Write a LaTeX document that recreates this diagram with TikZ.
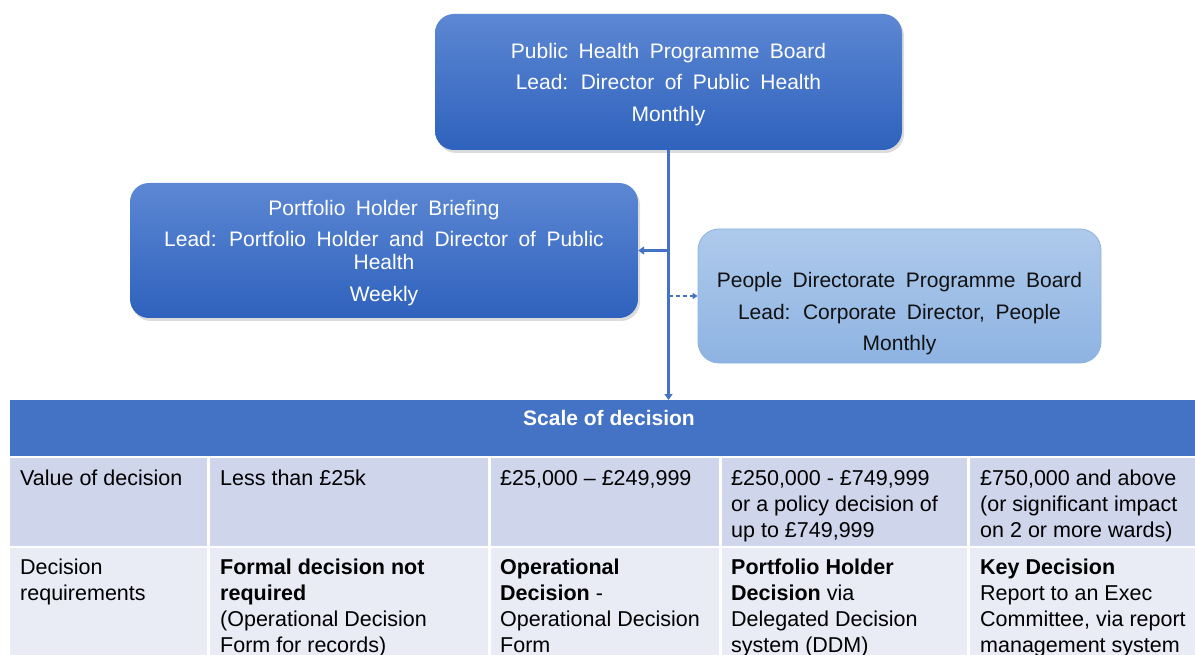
\documentclass[tikz,border=0pt]{standalone}
\usepackage{fontspec}
\setmainfont{Liberation Sans}
\usetikzlibrary{arrows.meta,shadows}

\definecolor{darktop}{HTML}{5C87D3}
\definecolor{darkbot}{HTML}{2F62BD}
\definecolor{lighttop}{HTML}{AECAEB}
\definecolor{lightbot}{HTML}{8EB3E2}
\definecolor{lightedge}{HTML}{8DB2E2}
\definecolor{linkblue}{HTML}{4472C4}
\definecolor{headblue}{HTML}{4472C4}
\definecolor{rowone}{HTML}{CFD5EA}
\definecolor{rowtwo}{HTML}{E9EBF5}
\definecolor{inktext}{HTML}{111111}

\newcommand\boxfont{\fontsize{21}{31.5}\selectfont\spaceskip=0.5em plus 0.1em\relax}
\newcommand\cellfont{\fontsize{21.5}{26}\selectfont}
% taller first line, nudging the block of text slightly downward in its box
\newcommand\toprule{\rule{0pt}{19.5pt}}

\begin{document}
\begin{tikzpicture}[x=1pt,y=1pt,
  darkbox/.style={rounded corners=19pt, top color=darktop, bottom color=darkbot,
    draw=none, text=white, align=center, font=\boxfont, inner sep=0pt,
    drop shadow={opacity=0.28, shadow xshift=2pt, shadow yshift=-3pt}},
  lightbox/.style={rounded corners=21pt, top color=lighttop, bottom color=lightbot,
    draw=lightedge, line width=0.8pt, inner sep=0pt},
  lighttext/.style={text=inktext, align=center, font=\boxfont, inner sep=0pt},
  flow/.style={draw=linkblue, line width=2.6pt,
    -{Triangle[width=8pt,length=6pt]}},
  dflow/.style={draw=linkblue, line width=1.5pt, dash pattern=on 4pt off 3pt,
    -{Triangle[width=6pt,length=5pt]}},
  gridline/.style={draw=white, line width=2.5pt},
  cell/.style={anchor=north west, inner sep=0pt, align=left, font=\cellfont, text=black},
]
\useasboundingbox (0,0) rectangle (1195,-655);

% ---- boards ----
\node[darkbox, minimum width=467pt, minimum height=136pt] (phpb) at (668.5,-82)
  {\toprule Public Health Programme Board\\Lead: Director of Public Health\\Monthly};

\node[darkbox, minimum width=508pt, minimum height=135pt] (phb) at (384,-250.5)
  {\toprule Portfolio Holder Briefing\\Lead: Portfolio Holder and Director of Public\\[-8.5pt]Health\\Weekly};

\node[lightbox, minimum width=403pt, minimum height=134pt] (pdb) at (899.5,-296) {};
\node[lighttext] (pdbtext) at ([yshift=-18pt]pdb.center)
  {People Directorate Programme Board\\Lead: Corporate Director, People\\Monthly};

% ---- decision table ----
\node[fill=headblue, minimum width=1187pt, minimum height=56pt, inner sep=0pt, anchor=north west]
  (scale) at (10,-400) {};
\node[text=white, font=\fontsize{21}{26}\selectfont\bfseries, inner sep=0pt] (scaletext)
  at (609,-418) {Scale of decision};

\fill[rowone] (10,-456) rectangle (1197,-547);
\fill[rowtwo] (10,-547) rectangle (1197,-670);
\draw[gridline] (10,-457) -- (1197,-457);
\draw[gridline] (10,-547) -- (1197,-547);
\foreach \cx in {208.5,489.5,720.5,968.5}
  \draw[gridline] (\cx,-457) -- (\cx,-670);

% row: value of decision
\node[cell] (v0) at (20,-470) {Value of decision};
\node[cell] (v1) at (220,-470) {Less than £25k};
\node[cell] (v2) at (500,-470) {£25,000 – £249,999};
\node[cell] (v3) at (731,-470) {£250,000 - £749,999\\or a policy decision of\\up to £749,999};
\node[cell] (v4) at (980,-470) {£750,000 and above\\(or significant impact\\on 2 or more wards)};

% row: decision requirements
\node[cell] (r0) at (20,-559) {Decision\\requirements};
\node[cell] (r1) at (220,-559) {\textbf{Formal decision not}\\\textbf{required}\\(Operational Decision\\Form for records)};
\node[cell] (r2) at (500,-559) {\textbf{Operational}\\\textbf{Decision} -\\Operational Decision\\Form};
\node[cell] (r3) at (731,-559) {\textbf{Portfolio Holder}\\\textbf{Decision} via\\Delegated Decision\\system (DDM)};
\node[cell] (r4) at (980,-559) {\textbf{Key Decision}\\Report to an Exec\\Committee, via report\\management system};

% ---- connectors ----
\draw[flow] (phpb.south) -- (phpb.south |- scale.north);
\draw[flow] (phpb.south |- phb.east) -- (phb.east);
\draw[dflow] (phpb.south |- pdb.west) -- (pdb.west);
\end{tikzpicture}
\end{document}
